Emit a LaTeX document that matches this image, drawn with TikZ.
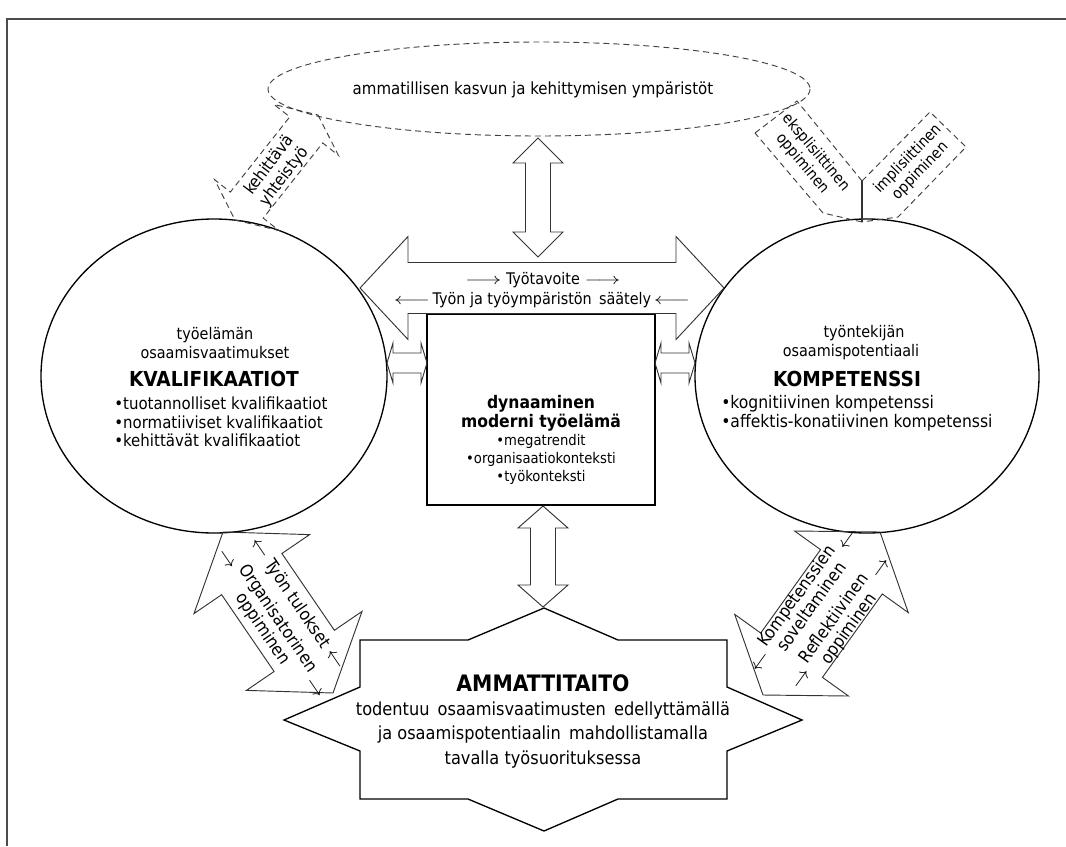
\documentclass[tikz,border=0pt]{standalone}
\usepackage{fontspec}
\IfFontExistsTF{DejaVu Sans Condensed}{\setmainfont{DejaVu Sans Condensed}}{\setmainfont{DejaVu Sans}}
\usetikzlibrary{calc}
% block double arrow between two named tips: #1 style, #2 tip A, #3 tip B, #4 head length, #5 head half width, #6 shaft half width (px)
\newcommand\blockarrow[6]{%
  \coordinate (ba1) at ($(#2)!#4*0.75pt!(#3)$);
  \coordinate (ba2) at ($(#3)!#4*0.75pt!(#2)$);
  \draw[#1] (#2) -- ($(ba1)!#5*0.75pt!90:(#3)$) -- ($(ba1)!#6*0.75pt!90:(#3)$)
    -- ($(ba2)!#6*0.75pt!-90:(#2)$) -- ($(ba2)!#5*0.75pt!-90:(#2)$) -- (#3)
    -- ($(ba2)!#5*0.75pt!90:(#2)$) -- ($(ba2)!#6*0.75pt!90:(#2)$)
    -- ($(ba1)!#6*0.75pt!-90:(#3)$) -- ($(ba1)!#5*0.75pt!-90:(#3)$) -- cycle;
}
\newcommand\fsz[2]{\fontsize{#1}{#2}\selectfont}
\newcommand\rarr{\scalebox{1.3}{$\rightarrow$}}
\newcommand\larr{\scalebox{1.3}{$\leftarrow$}}
\newcommand\Rarr{\scalebox{1.4}[1]{$\longrightarrow$}}
\newcommand\Larr{\scalebox{1.4}[1]{$\longleftarrow$}}
\tikzset{
  framel/.style={line width=1pt, black!70},
  circ/.style={draw=black, line width=1pt},
  solidarr/.style={draw=black!80, line width=0.7pt, line join=miter},
  dasharr/.style={draw=black!75, line width=0.7pt, dash pattern=on 4.5pt off 3pt},
  txt/.style={inner sep=0pt, align=center, font=\fsz{12}{14.5}},
  rot/.style={inner sep=0pt, align=center, font=\fsz{13}{17}},
  drot/.style={inner sep=0pt, align=center, font=\fsz{11.5}{13}},
}
\begin{document}
\begin{tikzpicture}[x=0.75pt,y=-0.75pt]
\useasboundingbox (0,0) rectangle (1066,846);
% frame
\coordinate (f1) at (1066,19);
\coordinate (f2) at (7,19);
\coordinate (f3) at (7,846);
\draw[framel] (f1) -- (f2) -- (f3);

% top dashed ellipse
\draw[dasharr] (539,89) ellipse [x radius=271, y radius=47];
\node[txt, font=\fsz{12.5}{14.5}] (env) at (533,90) {ammatillisen kasvun ja kehittymisen ympäristöt};

% circles (ellipses)
\draw[circ] (214,376) ellipse [x radius=173, y radius=157];
\draw[circ] (867,376) ellipse [x radius=172, y radius=157];

% central box
\draw[line width=1pt] (427,314) rectangle (655,505);
\node[txt, font=\bfseries\fsz{13}{14}] (dyn) at (541,413) {dynaaminen\\moderni työelämä};
\node[txt, font=\fsz{11}{13.5}] (dynb) at (541,459) {•megatrendit\\•organisaatiokonteksti\\•työkonteksti};

% horizontal big double arrow
\coordinate (hA) at (360,288);
\coordinate (hB) at (724,288);
\blockarrow{solidarr}{hA}{hB}{48}{51.5}{25.5}
\node[txt] (tav) at (543,280) {\Rarr\ Työtavoite\ \Rarr};
\node[txt] (saa) at (542,300) {\Larr\,Työn ja työympäristön\, säätely\,\Larr};

% top vertical arrow
\coordinate (vA) at (538,138);
\coordinate (vB) at (538,257);
\blockarrow{solidarr}{vA}{vB}{25}{25}{12.5}

% bottom vertical arrow
\coordinate (wA) at (543,506);
\coordinate (wB) at (543,607);
\blockarrow{solidarr}{wA}{wB}{22}{25}{12.5}

% small side arrows
\coordinate (sA) at (387,363);
\coordinate (sB) at (427,363);
\blockarrow{solidarr}{sA}{sB}{6}{20}{10}
\coordinate (tA) at (655,363);
\coordinate (tB) at (695,363);
\blockarrow{solidarr}{tA}{tB}{6}{20}{10}

% left circle text
\node[txt, font=\fsz{12}{14.5}] (l1) at (215,343) {työelämän\\osaamisvaatimukset};
\node[txt, font=\bfseries\fsz{15.5}{18}] (l2) at (214,379) {KVALIFIKAATIOT};
\node[txt, align=left, anchor=west, font=\fsz{12.5}{14}] (l3) at (114,422) {•tuotannolliset kvalifikaatiot\\•normatiiviset kvalifikaatiot\\•kehittävät kvalifikaatiot};

% right circle text
\node[txt, font=\fsz{12}{14.5}] (r1) at (864,333) {työntekijän};
\node[txt, font=\fsz{12}{14.5}] (r1b) at (851,352) {osaamispotentiaali};
\node[txt, font=\bfseries\fsz{15.5}{18}] (r2) at (847,379) {KOMPETENSSI};
\node[txt, align=left, anchor=west, font=\fsz{13}{14}] (r3) at (721,413) {•kognitiivinen kompetenssi\\•affektis-konatiivinen kompetenssi};

% star AMMATTITAITO
\draw[line width=1pt, line join=miter] (544,608) -- (468,640) -- (360,640) -- (360,687) -- (284,720) -- (360,751)
  -- (360,799) -- (468,799) -- (544,831) -- (618,799) -- (727,799) -- (727,751) -- (802,720)
  -- (727,687) -- (727,640) -- (618,640) -- cycle;
\node[txt, font=\bfseries\fsz{17}{20}] (am) at (543,683) {AMMATTITAITO};
\node[txt, font=\fsz{13.5}{18.5}] (amt) at (543,735) {todentuu\, osaamisvaatimusten\, edellyttämällä\\ja osaamispotentiaalin\, mahdollistamalla\\tavalla työsuorituksessa};

% dashed arrow: kehittävä yhteistyö
\coordinate (kA) at (318,115);
\coordinate (kB) at (235,220);
\blockarrow{dasharr}{kA}{kB}{19}{41}{21}
\node[drot, font=\fsz{12.5}{14}, rotate=52.7] (ky) at (277,171) {kehittävä\\yhteistyö};

% dashed: eksplisiittinen / implisiittinen oppiminen
\coordinate (e1) at (755,133);
\coordinate (e2) at (797,101);
\coordinate (e3) at (862,181);
\coordinate (e4) at (862,222);
\coordinate (e5) at (823,213);
\draw[dasharr] (e1) -- (e2) -- (e3);
\draw[dasharr] (e4) -- (e5) -- (e1);
\coordinate (i2) at (930,112);
\coordinate (i3) at (966,147);
\coordinate (i4) at (898,217);
\draw[dasharr] (e3) -- (i2) -- (i3) -- (i4) -- (e4);
\draw[line width=0.8pt, black!80] (e3) -- (e4);
\node[drot, rotate=-50] (ek) at (809,158) {eksplisiittinen\\oppiminen};
\node[drot, rotate=46] (im) at (914,165) {implisiittinen\\oppiminen};

% bottom-left arrow
\coordinate (bA) at (223,532);
\coordinate (bB) at (333,693);
\blockarrow{solidarr}{bA}{bB}{51}{70}{36.5}
\node[rot, rotate=-55.8] (tt) at (297,604) {\larr\ Työn tulokset\ \larr};
\node[rot, rotate=-55.8] (oo) at (270,624) {\rarr\ {\begin{tabular}{@{}c@{}}Organisatorinen\\[-3pt]oppiminen\end{tabular}}\ \rarr};

% bottom-right arrow
\coordinate (cA) at (880,532);
\coordinate (cB) at (763,695);
\blockarrow{solidarr}{cA}{cB}{49}{70}{38}
\node[rot, rotate=54.3] (ks) at (805,602) {\larr\ {\begin{tabular}{@{}c@{}}Kompetenssien\\[-3pt]soveltaminen\end{tabular}}\ \larr};
\node[rot, rotate=54.3] (ro) at (842,624) {\rarr\ {\begin{tabular}{@{}c@{}}Reflektiivinen\\[-3pt]oppiminen\end{tabular}}\ \rarr};
\end{tikzpicture}
\end{document}
